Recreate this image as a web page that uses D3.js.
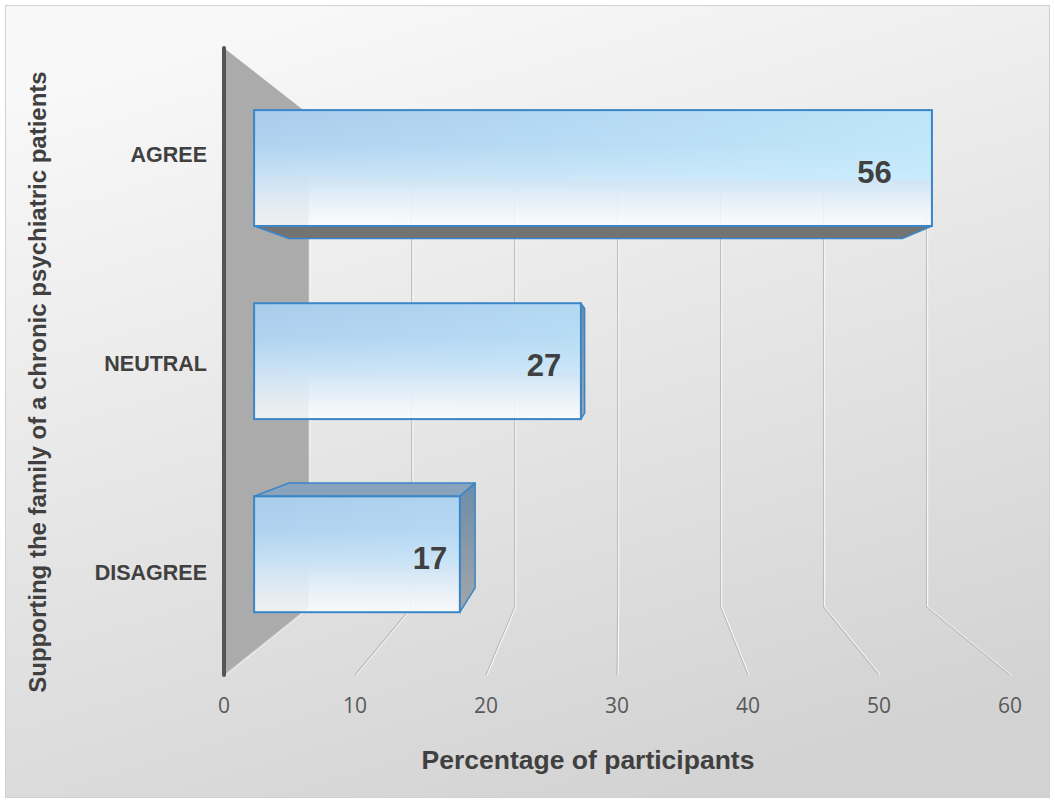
<!DOCTYPE html>
<html>
<head>
<meta charset="utf-8">
<script src="https://cdn.jsdelivr.net/npm/d3@7"></script>
<style>
  html, body { margin: 0; padding: 0; background: #ffffff; }
  svg { display: block; }
</style>
</head>
<body>
<svg id="chart" width="1055" height="803"></svg>
<script>
// ---- data ----
const categories = ["AGREE", "NEUTRAL", "DISAGREE"];
const values = [56, 27, 17];
const tickValues = [0, 10, 20, 30, 40, 50, 60];
const yTitle = "Supporting the family of a chronic psychiatric patients";
const xTitle = "Percentage of participants";

// ---- layout ----
const W = 1055, H = 803;
const svg = d3.select("#chart");
const defs = svg.append("defs");

// perspective: everything is laid out on the front plane, then pulled toward a vanishing point
const vp = { x: 620, y: 357 };
const depth = { front: 1, back: 0.786, barFront: 0.924, barBack: 0.836, label: 0.87 };
const project = (X, Y, s) => [vp.x + (X - vp.x) * s, vp.y + (Y - vp.y) * s];

const x = d3.scaleLinear().domain([0, 60]).range([224, 1010]);
const y = d3.scaleBand().domain(categories).range([48, 675]).paddingInner(0.4).paddingOuter(0.2);
const yTop = 48, yBottom = 675;

// ---- background ----
const bg = defs.append("linearGradient").attr("id", "bg")
  .attr("x1", "0.3").attr("y1", "0").attr("x2", "0.7").attr("y2", "1");
bg.append("stop").attr("offset", "0").attr("stop-color", "#f8f8f8");
bg.append("stop").attr("offset", "1").attr("stop-color", "#d2d2d2");
svg.append("rect").attr("x", 5.5).attr("y", 5.5).attr("width", W - 11).attr("height", H - 11)
  .attr("fill", "url(#bg)").attr("stroke", "#d0d0d0").attr("stroke-width", 1);

const line = d3.line();

// ---- side wall ----
svg.append("path")
  .attr("d", line([
    project(x(0), yTop, depth.front),
    project(x(0), yTop, depth.back),
    project(x(0), yBottom, depth.back),
    project(x(0), yBottom, depth.front)
  ]) + "Z")
  .attr("fill", "#ababab");

// ---- gridlines: back wall verticals + floor lines ----
const grid = svg.append("g");
tickValues.forEach(t => {
  const pts = [
    project(x(t), yTop, depth.back),
    project(x(t), yBottom, depth.back),
    project(x(t), yBottom, depth.front)
  ];
  grid.append("path").attr("d", line(pts.map(p => [p[0] + 1, p[1]])))
    .attr("fill", "none").attr("stroke", "#ffffff").attr("stroke-width", 1.2);
  grid.append("path").attr("d", line(pts))
    .attr("fill", "none").attr("stroke", "#bdbdbd").attr("stroke-width", 1.2);
});

// dark front edge of the side wall
svg.append("line")
  .attr("x1", x(0)).attr("x2", x(0)).attr("y1", yTop).attr("y2", yBottom)
  .attr("stroke", "#555555").attr("stroke-width", 4).attr("stroke-linecap", "round");

// ---- bar fills ----
const faceGrad = defs.append("linearGradient").attr("id", "face")
  .attr("x1", "0").attr("y1", "0").attr("x2", "0").attr("y2", "1");
[["0", "#a9cceb", 1], ["0.3", "#b0d3f0", 1], ["0.55", "#c8e0f4", 1], ["1", "#ffffff", 0.82]]
  .forEach(([o, c, a]) => faceGrad.append("stop").attr("offset", o).attr("stop-color", c).attr("stop-opacity", a));

const sheen = defs.append("linearGradient").attr("id", "sheen")
  .attr("gradientUnits", "userSpaceOnUse")
  .attr("x1", 254).attr("y1", 0).attr("x2", 940).attr("y2", 0);
sheen.append("stop").attr("offset", "0").attr("stop-color", "#c8f0ff").attr("stop-opacity", 0);
sheen.append("stop").attr("offset", "1").attr("stop-color", "#c8f0ff").attr("stop-opacity", 0.7);

const sideGrad = defs.append("linearGradient").attr("id", "side")
  .attr("x1", "0").attr("y1", "0").attr("x2", "0").attr("y2", "1");
sideGrad.append("stop").attr("offset", "0").attr("stop-color", "#6d8ca8");
sideGrad.append("stop").attr("offset", "1").attr("stop-color", "#a3a6a9");

const edge = "#3a86c8";

// ---- bars ----
const bars = svg.append("g");
categories.forEach((cat, i) => {
  const v = values[i];
  const X0 = x(0), X1 = x(v);
  const Y0 = y(cat), Y1 = y(cat) + y.bandwidth();
  const f = (X, Y) => project(X, Y, depth.barFront);
  const b = (X, Y) => project(X, Y, depth.barBack);
  const g = bars.append("g");
  const face = (pts, fill) => g.append("path").attr("d", line(pts) + "Z")
    .attr("fill", fill).attr("stroke", edge).attr("stroke-width", 1.5).attr("stroke-linejoin", "round");

  const [fx0, fy0] = f(X0, Y0), [fx1, fy1] = f(X1, Y1);
  if (fy1 < vp.y) face([f(X0, Y1), f(X1, Y1), b(X1, Y1), b(X0, Y1)], "#737373");        // underside
  if (fy0 > vp.y) face([f(X0, Y0), f(X1, Y0), b(X1, Y0), b(X0, Y0)], "#88a3bb");        // top
  if (fx1 < vp.x) face([f(X1, Y0), b(X1, Y0), b(X1, Y1), f(X1, Y1)], "url(#side)");     // right end
  if (fx0 > vp.x) face([f(X0, Y0), b(X0, Y0), b(X0, Y1), f(X0, Y1)], "url(#side)");     // left end

  // front face
  g.append("rect").attr("x", fx0).attr("y", fy0).attr("width", fx1 - fx0).attr("height", fy1 - fy0)
    .attr("fill", "url(#face)");
  g.append("rect").attr("x", fx0).attr("y", fy0).attr("width", fx1 - fx0).attr("height", (fy1 - fy0) * 0.6)
    .attr("fill", "url(#sheen)");
  g.append("rect").attr("x", fx0).attr("y", fy0).attr("width", fx1 - fx0).attr("height", fy1 - fy0)
    .attr("fill", "none").attr("stroke", edge).attr("stroke-width", 2);

  // value label
  const lp = project(X1, Y0 + y.bandwidth() / 2, depth.label);
  g.append("text")
    .attr("x", lp[0] - 22).attr("y", (fy0 + fy1) / 2 + 4)
    .attr("text-anchor", "end").attr("dominant-baseline", "central")
    .attr("font-family", "Liberation Sans, Arial, sans-serif").attr("font-weight", "bold")
    .attr("font-size", 31).attr("fill", "#404040")
    .text(v);
});

// ---- category labels ----
svg.append("g").selectAll("text").data(categories).join("text")
  .attr("x", 207).attr("y", d => y(d) + y.bandwidth() / 2 + 9)
  .attr("text-anchor", "end")
  .attr("font-family", "Liberation Sans, Arial, sans-serif").attr("font-weight", "bold")
  .attr("font-size", 21.5).attr("fill", "#404040")
  .text(d => d);

// ---- tick labels ----
svg.append("g").selectAll("text").data(tickValues).join("text")
  .attr("x", d => x(d)).attr("y", 713)
  .attr("text-anchor", "middle")
  .attr("font-family", "Open Sans, sans-serif")
  .attr("font-size", 21).attr("fill", "#595959")
  .text(d => d);

// ---- axis titles ----
svg.append("text")
  .attr("x", 588).attr("y", 769)
  .attr("text-anchor", "middle")
  .attr("font-family", "Liberation Sans, Arial, sans-serif").attr("font-weight", "bold")
  .attr("font-size", 26.5).attr("fill", "#404040")
  .text(xTitle);

svg.append("text")
  .attr("transform", "translate(46,382) rotate(-90)")
  .attr("text-anchor", "middle")
  .attr("font-family", "Liberation Sans, Arial, sans-serif").attr("font-weight", "bold")
  .attr("font-size", 24).attr("fill", "#404040")
  .text(yTitle);
</script>
</body>
</html>
